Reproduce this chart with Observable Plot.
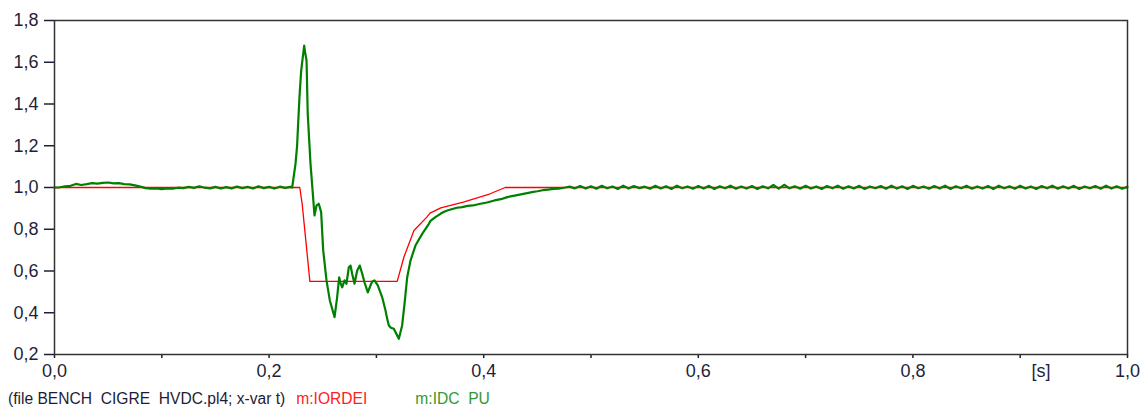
<!DOCTYPE html>
<html><head><meta charset="utf-8">
<script src="https://cdn.jsdelivr.net/npm/d3@7"></script>
<script src="https://cdn.jsdelivr.net/npm/@observablehq/plot@0.6"></script>
<style>
body{margin:0;background:#fff;font-family:"Liberation Sans",Arial,sans-serif;}
#chart{position:absolute;left:0;top:0;}
#legend{position:absolute;left:8px;top:390px;font-size:15.6px;white-space:pre;color:#1c1c3a;}
#legend .r{color:#ff2020;margin-left:11px;}
#legend .g{color:#339933;margin-left:48px;}
</style></head><body>
<div id="chart"></div>
<div id="legend">(file BENCH  CIGRE  HVDC.pl4; x-var t)<span class="r">m:IORDEI</span><span class="g">m:IDC  PU</span></div>
<script>
// tick values
const yTicks = [0.2, 0.4, 0.6, 0.8, 1.0, 1.2, 1.4, 1.6, 1.8];
const xMinorTicks = [0.1, 0.3, 0.5, 0.7, 0.9];
const xLabelTicks = [0.0, 0.2, 0.4, 0.6, 0.8, 1.0];

// m:IORDEI (red) [t, value]
const iordei = [
  [0, 1.0], [0.2286, 1.0], [0.2308, 0.922], [0.2339, 0.762], [0.237, 0.602], [0.238, 0.55],
  [0.3194, 0.55], [0.3256, 0.666], [0.335, 0.794], [0.347, 0.858], [0.35, 0.877],
  [0.36, 0.902], [0.381, 0.930], [0.406, 0.970], [0.420, 1.0], [1.0, 1.0]
];

// m:IDC (green) before the fault
const idcStart = [
  [0, 1.000], [0.005, 1.001], [0.010, 1.006], [0.015, 1.008], [0.020, 1.017], [0.025, 1.012],
  [0.030, 1.016], [0.035, 1.021], [0.040, 1.019], [0.045, 1.022], [0.050, 1.024], [0.055, 1.020],
  [0.060, 1.021], [0.065, 1.016], [0.070, 1.015], [0.075, 1.010], [0.080, 1.004], [0.085, 0.997],
  [0.090, 0.994], [0.095, 0.996], [0.100, 0.992], [0.105, 0.996], [0.110, 0.994], [0.115, 0.999],
  [0.120, 0.997], [0.125, 1.003], [0.130, 0.998], [0.135, 1.006], [0.140, 0.999], [0.145, 0.996],
  [0.150, 1.003], [0.155, 0.995], [0.160, 1.002], [0.165, 0.996], [0.170, 1.004], [0.175, 0.997],
  [0.180, 1.003], [0.185, 0.995], [0.190, 1.006], [0.195, 0.997], [0.200, 1.003], [0.205, 0.995],
  [0.210, 1.004], [0.215, 0.998], [0.220, 1.003], [0.2215, 1.000]
];

// m:IDC (green) transient
const idcTransient = [
  [0.2246, 1.113], [0.226, 1.193], [0.2283, 1.433], [0.2299, 1.56], [0.2314, 1.624], [0.2327, 1.68],
  [0.2335, 1.65], [0.2349, 1.608], [0.236, 1.353], [0.2386, 1.113], [0.241, 0.954], [0.2423, 0.866],
  [0.2442, 0.914], [0.2463, 0.922], [0.2485, 0.882], [0.2504, 0.70], [0.2535, 0.555], [0.2566, 0.459],
  [0.261, 0.379], [0.2634, 0.474], [0.2653, 0.570], [0.2668, 0.538], [0.2681, 0.522], [0.2703, 0.555],
  [0.2721, 0.539], [0.2743, 0.618], [0.2759, 0.626], [0.2774, 0.587], [0.2796, 0.539], [0.2821, 0.602],
  [0.2845, 0.626], [0.2868, 0.587], [0.2889, 0.546], [0.292, 0.498], [0.2951, 0.539], [0.2965, 0.551],
  [0.2982, 0.555], [0.3013, 0.531], [0.3054, 0.474], [0.3085, 0.411], [0.3100, 0.372], [0.3116, 0.339],
  [0.3135, 0.328], [0.3162, 0.323], [0.3185, 0.300], [0.3209, 0.275],
  [0.324, 0.339], [0.3262, 0.443], [0.3287, 0.570], [0.3318, 0.650], [0.3364, 0.722], [0.3427, 0.778],
  [0.3489, 0.826], [0.3504, 0.840], [0.355, 0.858], [0.3597, 0.874], [0.363, 0.884], [0.366, 0.890],
  [0.370, 0.896], [0.375, 0.903], [0.380, 0.906], [0.385, 0.912], [0.390, 0.914], [0.397, 0.922],
  [0.403, 0.928], [0.410, 0.938], [0.416, 0.944], [0.422, 0.954], [0.430, 0.962], [0.4405, 0.973],
  [0.445, 0.978], [0.450, 0.982], [0.455, 0.987], [0.460, 0.990], [0.465, 0.993], [0.470, 0.995],
  [0.476, 1.000]
];

// m:IDC (green) after recovery
const idcEnd = [
  [0.480, 1.004], [0.485, 0.996], [0.490, 1.007], [0.495, 0.995], [0.500, 1.006], [0.505, 0.994],
  [0.510, 1.008], [0.515, 0.996], [0.520, 1.005], [0.525, 0.993], [0.530, 1.009], [0.535, 0.995],
  [0.540, 1.007], [0.545, 0.997], [0.550, 1.004], [0.555, 0.994], [0.560, 1.008], [0.565, 0.995],
  [0.570, 1.006], [0.575, 0.993], [0.580, 1.009], [0.585, 0.996], [0.590, 1.005], [0.595, 0.994],
  [0.600, 1.007], [0.605, 0.995], [0.610, 1.008], [0.615, 0.993], [0.620, 1.006], [0.625, 0.996],
  [0.630, 1.009], [0.635, 0.994], [0.640, 1.005], [0.645, 0.995], [0.650, 1.007], [0.655, 0.993],
  [0.660, 1.006], [0.665, 0.996], [0.670, 1.012], [0.675, 0.995], [0.680, 1.013], [0.685, 0.996],
  [0.690, 1.006], [0.695, 0.994], [0.700, 1.008], [0.705, 0.995], [0.710, 1.005], [0.715, 0.993],
  [0.720, 1.007], [0.725, 0.996], [0.730, 1.009], [0.735, 0.994], [0.740, 1.006], [0.745, 0.995],
  [0.750, 1.008], [0.755, 0.993], [0.760, 1.005], [0.765, 0.996], [0.770, 1.007], [0.775, 0.994],
  [0.780, 1.009], [0.785, 0.995], [0.790, 1.006], [0.795, 0.993], [0.800, 1.008], [0.805, 0.996],
  [0.810, 1.005], [0.815, 0.994], [0.820, 1.007], [0.825, 0.995], [0.830, 1.009], [0.835, 0.993],
  [0.840, 1.006], [0.845, 0.996], [0.850, 1.008], [0.855, 0.994], [0.860, 1.005], [0.865, 0.995],
  [0.870, 1.007], [0.875, 0.993], [0.880, 1.009], [0.885, 0.996], [0.890, 1.006], [0.895, 0.994],
  [0.900, 1.008], [0.905, 0.995], [0.910, 1.005], [0.915, 0.993], [0.920, 1.007], [0.925, 0.996],
  [0.930, 1.009], [0.935, 0.994], [0.940, 1.006], [0.945, 0.995], [0.950, 1.008], [0.955, 0.993],
  [0.960, 1.005], [0.965, 0.996], [0.970, 1.007], [0.975, 0.994], [0.980, 1.009], [0.985, 0.995],
  [0.990, 1.006], [0.995, 0.994], [1.000, 1.003]
];

const idc = idcStart.concat(idcTransient, idcEnd);
const fmt = d => d.toFixed(1).replace(".", ",");

const chart = Plot.plot({
  width: 1146,
  height: 385,
  marginTop: 20,
  marginBottom: 31,
  marginLeft: 54,
  marginRight: 19,
  style: {fontSize: "18px", fontFamily: "Liberation Sans, Arial, sans-serif", color: "#1f1f3a", background: "white"},
  x: {domain: [0, 1]},
  y: {domain: [0.2, 1.8]},
  marks: [
    Plot.axisY({ticks: yTicks, tickSize: 10, tickPadding: 6, tickFormat: fmt, label: null, strokeWidth: 1.5}),
    Plot.axisX({ticks: xMinorTicks, tickSize: 4, tickFormat: () => "", label: null, strokeWidth: 1.5}),
    Plot.axisX({ticks: xLabelTicks, tickSize: 4, tickPadding: 6, tickFormat: fmt, label: null, strokeWidth: 1.5}),
    Plot.line(iordei, {x: d => d[0], y: d => d[1], stroke: "#ff0000", strokeWidth: 1.3}),
    Plot.line(idc, {x: d => d[0], y: d => d[1], stroke: "#008000", strokeWidth: 2.2}),
    Plot.frame({stroke: "#333", strokeWidth: 1.5}),
    Plot.text(["[s]"], {frameAnchor: "bottom-right", dx: -77, dy: 22, fontSize: 18, fill: "#1f1f3a"})
  ]
});
document.getElementById("chart").appendChild(chart);
</script>
</body></html>
